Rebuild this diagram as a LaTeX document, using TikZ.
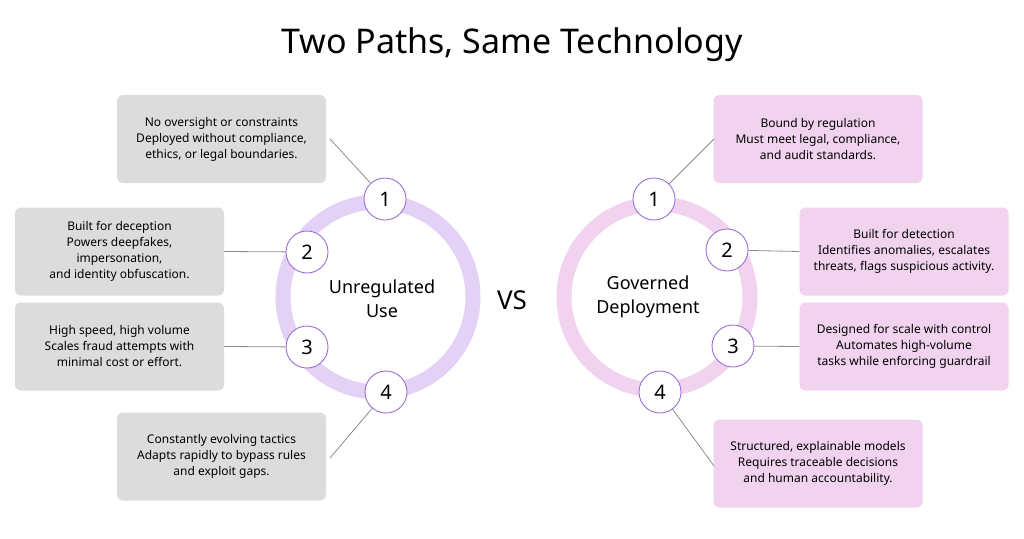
\documentclass[tikz,border=0pt]{standalone}
\usepackage{fontspec}
\setmainfont{Noto Sans}
\definecolor{grayb}{HTML}{DCDCDC}
\definecolor{pinkb}{HTML}{F1D3EF}
\definecolor{ringl}{HTML}{E3D1F6}
\definecolor{ringr}{HTML}{F1D3EF}
\definecolor{badge}{HTML}{9B6FD8}
\definecolor{linec}{HTML}{8C8C8C}
\begin{document}
\begin{tikzpicture}[x=1pt,y=-1pt,
  box/.style={rounded corners=6pt,minimum width=209pt,minimum height=88pt,align=center,inner sep=0pt,font=\fontsize{12}{16}\selectfont},
  lbox/.style={box,fill=grayb},
  rbox/.style={box,fill=pinkb},
  num/.style={circle,draw=badge,line width=0.9pt,fill=white,minimum size=42pt,inner sep=0pt,font=\fontsize{20}{20}\selectfont},
  conn/.style={draw=linec,line width=0.8pt}]
\useasboundingbox (0,0) rectangle (1024,538);
\node[font=\bfseries\fontsize{34}{34}\selectfont] (title) at (512,45) {Two Paths, Same Technology};
\node[font=\fontsize{26}{26}\selectfont] (vs) at (512,300) {VS};
% rings
\draw[ringl,line width=15pt] (378,297) circle (95);
\draw[ringr,line width=15pt] (657,297) circle (93);
\node[align=center,font=\fontsize{18}{24}\selectfont] (lc) at (382,299) {Unregulated\\Use};
\node[align=center,font=\fontsize{18}{24}\selectfont] (rc) at (648,297) {Governed\\Deployment};
% boxes
\node[lbox] (l1) at (221.5,139) {\textbf{No oversight or constraints}\\Deployed without compliance,\\ethics, or legal boundaries.};
\node[lbox] (l2) at (119.5,251.5) {\textbf{Built for deception}\\Powers deepfakes,\\impersonation,\\and identity obfuscation.};
\node[lbox] (l3) at (119.5,346.5) {\textbf{High speed, high volume}\\Scales fraud attempts with\\minimal cost or effort.};
\node[lbox] (l4) at (221.5,456.5) {\textbf{Constantly evolving tactics}\\Adapts rapidly to bypass rules\\and exploit gaps.};
\node[rbox] (r1) at (818,139) {\textbf{Bound by regulation}\\Must meet legal, compliance,\\and audit standards.};
\node[rbox] (r2) at (904,251.5) {\textbf{Built for detection}\\Identifies anomalies, escalates\\threats, flags suspicious activity.};
\node[rbox] (r3) at (904,346.5) {\textbf{Designed for scale with control}\\Automates high-volume\\tasks while enforcing guardrail};
\node[rbox] (r4) at (818,463.5) {\textbf{Structured, explainable models}\\Requires traceable decisions\\and human accountability.};
\coordinate (l1c) at (330,139);
\coordinate (l4c) at (330,458);
\coordinate (r1c) at (714,139);
\coordinate (r4c) at (714,466);
% badges
\node[num] (a1) at (385,199) {1};
\node[num] (a2) at (307,252) {2};
\node[num] (a3) at (307,347) {3};
\node[num] (a4) at (386,392) {4};
\node[num] (b1) at (654,199) {1};
\node[num] (b2) at (727,250) {2};
\node[num] (b3) at (733,346) {3};
\node[num] (b4) at (660,392) {4};
% connectors
\begin{scope}[on background layer/.style={}]
\end{scope}
\draw[conn] (l1c) -- (a1);
\draw[conn] (l2.east) -- (a2);
\draw[conn] (l3.east) -- (a3);
\draw[conn] (l4c) -- (a4);
\draw[conn] (r1c) -- (b1);
\draw[conn] (r2.west) -- (b2);
\draw[conn] (r3.west) -- (b3);
\draw[conn] (r4c) -- (b4);
\end{tikzpicture}
\end{document}
